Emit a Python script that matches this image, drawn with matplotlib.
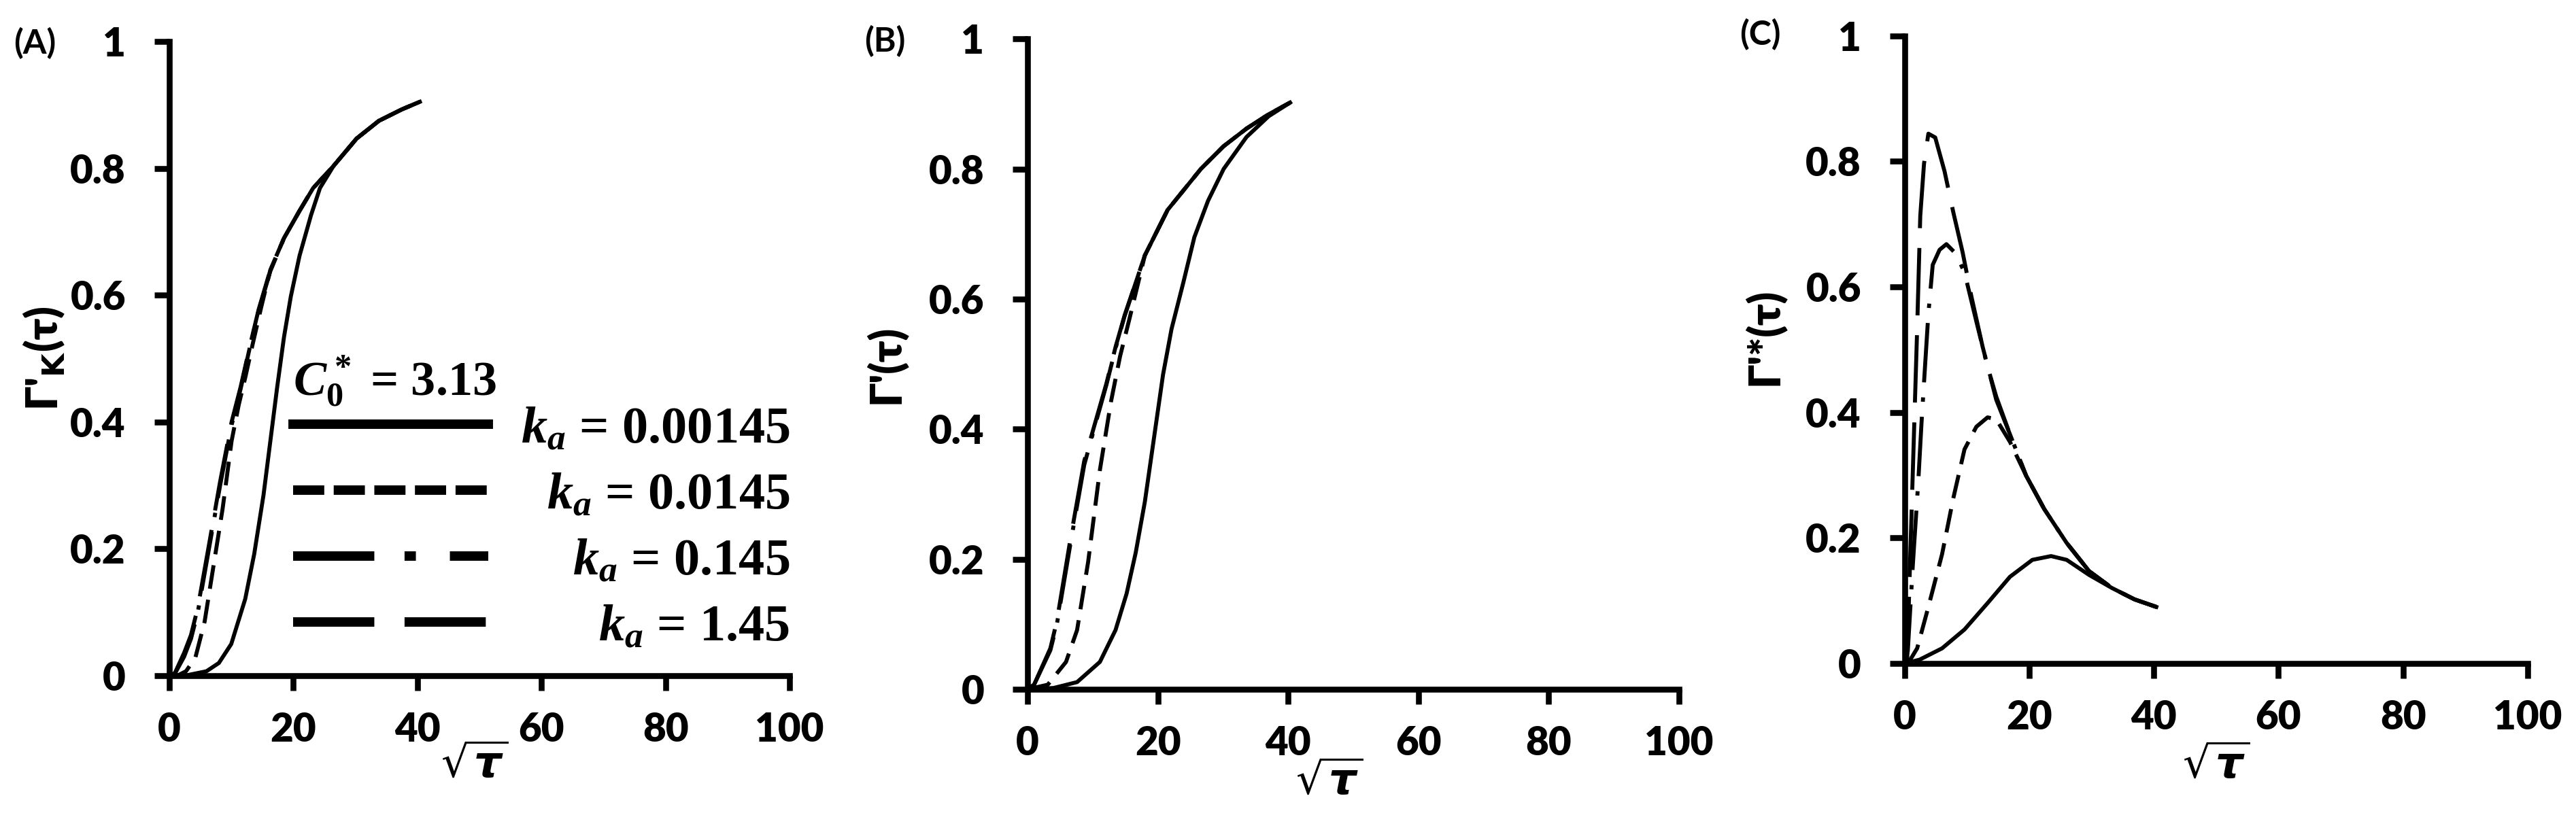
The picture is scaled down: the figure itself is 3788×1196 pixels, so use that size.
import numpy as np
import matplotlib
matplotlib.use('Agg')
import matplotlib.pyplot as plt
from matplotlib.lines import Line2D
from matplotlib.font_manager import FontProperties

# fuentes: sans negrita para ejes, serif (tipo Times) para la leyenda
plt.rcParams['font.family'] = ['Lato', 'DejaVu Sans']
plt.rcParams['mathtext.fontset'] = 'custom'
plt.rcParams['mathtext.rm'] = 'Liberation Serif:bold'
plt.rcParams['mathtext.it'] = 'Liberation Serif:italic:bold'
plt.rcParams['mathtext.bf'] = 'Liberation Serif:bold'

# ---------------- datos ----------------
x_ticks = [0, 20, 40, 60, 80, 100]
y_ticks = [0, 0.2, 0.4, 0.6, 0.8, 1]
y_tick_labels = ['0', '0.2', '0.4', '0.6', '0.8', '1']
ka_labels = ['0.00145', '0.0145', '0.145', '1.45']
c0_label = '3.13'

# (A) Gamma'_K
xA_s = [0, 3, 6, 8, 10, 12.25, 13.7, 15.2, 16.3, 17.4, 18.5, 19.6, 21.0, 22.85, 24.3, 26.5, 30.2, 33.8, 37.5, 40.4]
yA_s = [0, 0.001, 0.007, 0.02, 0.05, 0.121, 0.192, 0.285, 0.37, 0.455, 0.534, 0.598, 0.662, 0.726, 0.769, 0.804, 0.847, 0.875, 0.893, 0.905]
xA_d = [0, 1.5, 2.7, 4.2, 5.7, 7.1, 8.6, 10.05, 11.2, 12.25, 13.5, 14.8, 16.3, 18.5, 21, 23.2, 26.5, 30.2, 33.8, 37.5, 40.4]
yA_d = [0, 0.001, 0.007, 0.028, 0.085, 0.171, 0.263, 0.37, 0.427, 0.47, 0.525, 0.58, 0.64, 0.69, 0.733, 0.769, 0.804, 0.847, 0.875, 0.893, 0.905]
xA_dd = [0, 0.9, 2.4, 3.5, 4.6, 6.4, 8.2, 10.05, 11.5, 13, 14.4, 16.3, 18.5, 21, 23.2, 26.5, 30.2, 33.8, 37.5, 40.4]
yA_dd = [0, 0.003, 0.03, 0.058, 0.1, 0.2, 0.3, 0.395, 0.452, 0.518, 0.575, 0.638, 0.69, 0.733, 0.769, 0.804, 0.847, 0.875, 0.893, 0.905]
xA_l = [0, 0.9, 2.4, 3.5, 4.6, 6.4, 8.2, 10.05, 11.5, 13, 14.4, 16.3, 18.5, 21, 23.2, 26.5, 30.2, 33.8, 37.5, 40.4]
yA_l = [0, 0.004, 0.036, 0.064, 0.107, 0.206, 0.306, 0.40, 0.455, 0.52, 0.577, 0.64, 0.69, 0.733, 0.769, 0.804, 0.847, 0.875, 0.893, 0.905]

# (B) Gamma'
xB_s = [0, 4, 7.6, 11.1, 13.5, 15.2, 16.6, 18, 19.4, 20.8, 22.1, 23.9, 25.6, 27.7, 30.1, 33.6, 37, 40.3]
yB_s = [0, 0.002, 0.011, 0.042, 0.091, 0.147, 0.21, 0.288, 0.386, 0.484, 0.554, 0.625, 0.695, 0.751, 0.80, 0.849, 0.881, 0.902]
xB_d = [0, 3.1, 5.9, 7.6, 9.3, 11.1, 12.8, 14.2, 15.6, 18, 21.5, 26.6, 30.1, 33.6, 37, 40.3]
yB_d = [0, 0.007, 0.042, 0.091, 0.196, 0.337, 0.442, 0.512, 0.568, 0.667, 0.737, 0.80, 0.835, 0.862, 0.884, 0.902]
xB_dd = [0, 1, 3.5, 4.5, 6.6, 8.7, 10.7, 12.1, 13.5, 14.9, 18, 21.5, 26.6, 30.1, 33.6, 37, 40.3]
yB_dd = [0, 0.007, 0.06, 0.1, 0.225, 0.345, 0.418, 0.468, 0.524, 0.574, 0.667, 0.737, 0.80, 0.835, 0.862, 0.884, 0.902]
xB_l = [0, 1, 3.5, 4.5, 6.6, 8.7, 10.7, 12.1, 13.5, 14.9, 18, 21.5, 26.6, 30.1, 33.6, 37, 40.3]
yB_l = [0, 0.007, 0.063, 0.105, 0.232, 0.351, 0.421, 0.47, 0.526, 0.575, 0.667, 0.737, 0.80, 0.835, 0.862, 0.884, 0.902]

# (C) Gamma'*
xC_s = [0, 2.4, 6, 9.6, 13.3, 16.9, 20.5, 23.5, 26, 29.6, 33.3, 36.9, 40.4]
yC_s = [0, 0.006, 0.024, 0.054, 0.096, 0.138, 0.165, 0.171, 0.165, 0.141, 0.12, 0.102, 0.09]
xC_d = [0, 0.9, 2, 3.8, 6, 7.8, 9.6, 11.5, 13.3, 14.7, 16.9, 19.5, 22.4, 26, 29.6, 33.3, 36.9, 40.4]
yC_d = [0, 0.006, 0.024, 0.09, 0.174, 0.263, 0.341, 0.377, 0.392, 0.389, 0.353, 0.299, 0.246, 0.192, 0.147, 0.12, 0.102, 0.09]
xC_dd = [0, 0.5, 1.3, 2.2, 2.7, 3.3, 3.8, 4.5, 5.6, 6.7, 8.2, 9.6, 11.5, 13.3, 14.7, 16.9, 19.5, 22.4, 26, 29.6, 33.3, 36.9, 40.4]
yC_dd = [0, 0.02, 0.156, 0.293, 0.383, 0.479, 0.557, 0.635, 0.659, 0.668, 0.653, 0.623, 0.545, 0.473, 0.425, 0.365, 0.299, 0.246, 0.192, 0.147, 0.12, 0.102, 0.09]
xC_l = [0, 0.4, 0.9, 1.45, 2, 2.5, 3.1, 3.8, 4.9, 6.4, 7.8, 9.3, 10.7, 12.5, 14.7, 16.9, 19.5, 22.4, 26, 29.6, 33.3, 36.9, 40.4]
yC_l = [0, 0.006, 0.174, 0.353, 0.533, 0.713, 0.796, 0.844, 0.838, 0.784, 0.719, 0.655, 0.585, 0.505, 0.42, 0.365, 0.299, 0.246, 0.192, 0.147, 0.12, 0.102, 0.09]

# ---------------- estilos ----------------
curve_styles = ['-', (0, (6.0, 2.8)), (0, (15, 3.8, 1.1, 3.8)), (0, (17, 5))]
legend_styles = ['-', (0, (3.3, 1.0)), (0, (8.6, 3.2, 1.2, 3.6)), (0, (8.6, 3.2))]
curve_lw = 4.2
spine_lw = 6.2
tick_size = 42

fig = plt.figure(figsize=(37.88, 11.96), dpi=100)
axA = fig.add_axes([0.0657, 0.1689, 0.2408, 0.780])
axB = fig.add_axes([0.3989, 0.1522, 0.2529, 0.800])
axC = fig.add_axes([0.7394, 0.1840, 0.2418, 0.772])

panels = [
    (axA, [(xA_s, yA_s), (xA_d, yA_d), (xA_dd, yA_dd), (xA_l, yA_l)]),
    (axB, [(xB_s, yB_s), (xB_d, yB_d), (xB_dd, yB_dd), (xB_l, yB_l)]),
    (axC, [(xC_s, yC_s), (xC_d, yC_d), (xC_dd, yC_dd), (xC_l, yC_l)]),
]

for ax, series in panels:
    for (x, y), ls in zip(series, curve_styles):
        ax.plot(x, y, color='black', lw=curve_lw, linestyle=ls, clip_on=False)
    ax.set_xlim(0, 100)
    ax.set_ylim(0, 1)
    ax.set_xticks(x_ticks)
    ax.set_xticklabels([str(t) for t in x_ticks], fontsize=tick_size, fontweight='heavy')
    ax.set_yticks(y_ticks)
    ax.set_yticklabels(y_tick_labels, fontsize=tick_size, fontweight='heavy')
    for side in ['top', 'right']:
        ax.spines[side].set_visible(False)
    for side in ['left', 'bottom']:
        ax.spines[side].set_linewidth(spine_lw)
        ax.spines[side].set_capstyle('projecting')
    ax.tick_params(direction='out', length=16, width=spine_lw)
    ax.tick_params(axis='y', pad=30)
    ax.tick_params(axis='x', pad=22)

# etiquetas de ejes
ylabels = ["Γ'$_{\\mathbf{K}}$(τ)", "Γ'(τ)", "Γ'*(τ)"]
ylab_pos = [(-0.165, 0.50), (-0.186, 0.50), (-0.192, 0.52)]
xlab_pos = [(0.492, -0.108), (0.463, -0.110), (0.50, -0.130)]
for ax, lab, yp, xp in zip([axA, axB, axC], ylabels, ylab_pos, xlab_pos):
    ax.set_ylabel(lab, fontsize=46, fontweight='heavy', math_fontfamily='dejavusans')
    ax.yaxis.set_label_coords(*yp)
    ax.set_xlabel(r'$\sqrt{\boldsymbol{\tau}}$', fontsize=46, math_fontfamily='dejavusans')
    ax.xaxis.set_label_coords(*xp)

# letras de panel
for txt, px, py in [('(A)', 0.0053, 0.947), ('(B)', 0.3355, 0.949), ('(C)', 0.6753, 0.958)]:
    fig.text(px, py, txt, fontsize=36, fontweight='bold', va='center', ha='left')

# leyenda en el panel A: encabezado con C0* y filas con texto alineado a la derecha
axA.text(0.2, 0.442, rf'$C_0^*$ = {c0_label}', transform=axA.transAxes,
         fontsize=52, family='Liberation Serif', fontweight='bold',
         ha='left', va='baseline')

leg_font = FontProperties(family='Liberation Serif', weight='bold', size=55)
handles = [Line2D([], [], color='black', lw=10, linestyle=ls) for ls in legend_styles]
labels = [rf'$k_a$ = {v}' for v in ka_labels]
leg = axA.legend(handles, labels, loc='upper left', bbox_to_anchor=(0.2, 0.425),
                 frameon=False, prop=leg_font,
                 handlelength=3.75, handleheight=0.7, handletextpad=0.4,
                 labelspacing=0.36, borderpad=0, borderaxespad=0)

row_width = 730
for col in leg._legend_handle_box.get_children():
    for row in col.get_children():
        row.mode = 'expand'
        row.width = row_width

fig.savefig('out.png', dpi=100)
